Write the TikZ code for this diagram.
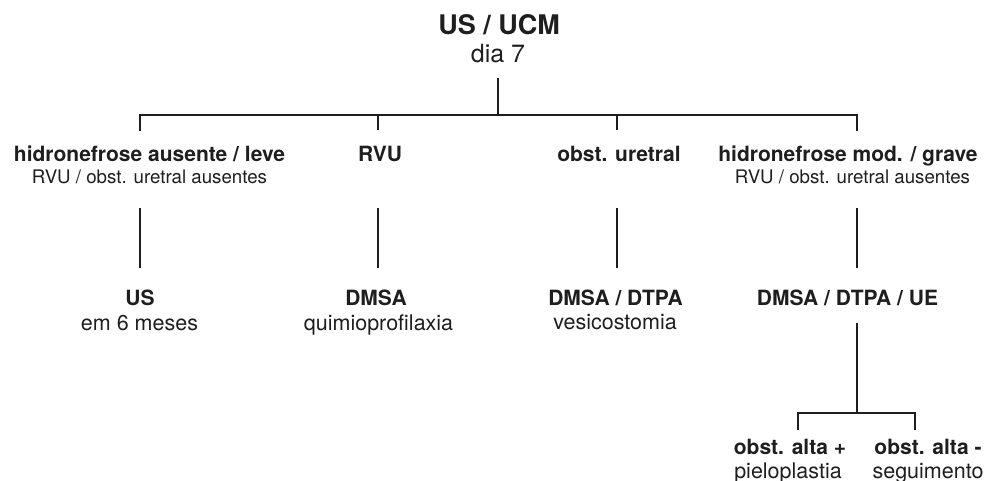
\documentclass[tikz,border=0pt]{standalone}
\usepackage{fontspec}
\setmainfont{TeX Gyre Heros}
\definecolor{ink}{HTML}{1E1E1E}
\begin{document}
\begin{tikzpicture}[x=1pt,y=-1pt,
  txt/.style={anchor=base,inner sep=0pt,text=ink},
  titlebold/.style={txt,font=\fontsize{27}{30}\selectfont\bfseries},
  titlereg/.style={txt,font=\fontsize{25}{28}\selectfont},
  hd/.style={txt,font=\fontsize{21}{24}\selectfont\bfseries},
  sub/.style={txt,font=\fontsize{18.7}{22}\selectfont},
  reg/.style={txt,font=\fontsize{21.5}{24}\selectfont},
  link/.style={draw=ink,line width=1.8pt}]
\useasboundingbox (0,0) rectangle (987,481);
% texts
\node[titlebold] (root) at (499,35) {US / UCM};
\node[titlereg] (rootsub) at (498,63) {dia 7};
\node[hd] (a1) at (149.5,162) {hidronefrose ausente / leve};
\node[sub] (a1s) at (149.5,183) {RVU / obst. uretral ausentes};
\node[hd] (b1) at (380,162) {RVU};
\node[hd] (c1) at (619,162) {obst. uretral};
\node[hd] (d1) at (848,162) {hidronefrose mod. / grave};
\node[sub] (d1s) at (852.5,183) {RVU / obst. uretral ausentes};
\node[hd] (a2) at (140,305) {US};
\node[reg] (a2s) at (139.5,330) {em 6 meses};
\node[hd] (b2) at (376,305) {DMSA};
\node[reg] (b2s) at (378.5,330) {quimioprofilaxia};
\node[hd] (c2) at (615.5,305) {DMSA / DTPA};
\node[reg] (c2s) at (615,329) {vesicostomia};
\node[hd] (d2) at (847.5,305) {DMSA / DTPA / UE};
\node[hd] (e1) at (790,454) {obst. alta +};
\node[reg] (e1s) at (788,478) {pieloplastia};
\node[hd] (f1) at (928,454) {obst. alta -};
\node[reg] (f1s) at (928,478) {seguimento};
% junction points
\coordinate (r0) at (498,78);
\coordinate (hub) at (498,115);
\coordinate (ha) at (140,115); \coordinate (ta) at (140,130);
\coordinate (hb) at (378,115); \coordinate (tb) at (378,130);
\coordinate (hc) at (617,115); \coordinate (tc) at (617,130);
\coordinate (hd1) at (857,115); \coordinate (td) at (857,130);
\coordinate (ua) at (140,208); \coordinate (la) at (140,268);
\coordinate (ub) at (378,208); \coordinate (lb) at (378,268);
\coordinate (uc) at (617,208); \coordinate (lc) at (617,268);
\coordinate (ud) at (857,208); \coordinate (ld) at (857,268);
\coordinate (ue) at (857,323); \coordinate (hub2) at (857,413);
\coordinate (he) at (798,413); \coordinate (te) at (798,430);
\coordinate (hf) at (915,413); \coordinate (tf) at (915,430);
% connectors
\draw[link] (r0) -- (hub);
\draw[link,line cap=rect] (ta) -- (ha) -- (hd1) -- (td);
\draw[link] (hb) -- (tb);
\draw[link] (hc) -- (tc);
\draw[link] (ua) -- (la);
\draw[link] (ub) -- (lb);
\draw[link] (uc) -- (lc);
\draw[link] (ud) -- (ld);
\draw[link] (ue) -- (hub2);
\draw[link] (te) -- (he) -- (hf) -- (tf);
\end{tikzpicture}
\end{document}
